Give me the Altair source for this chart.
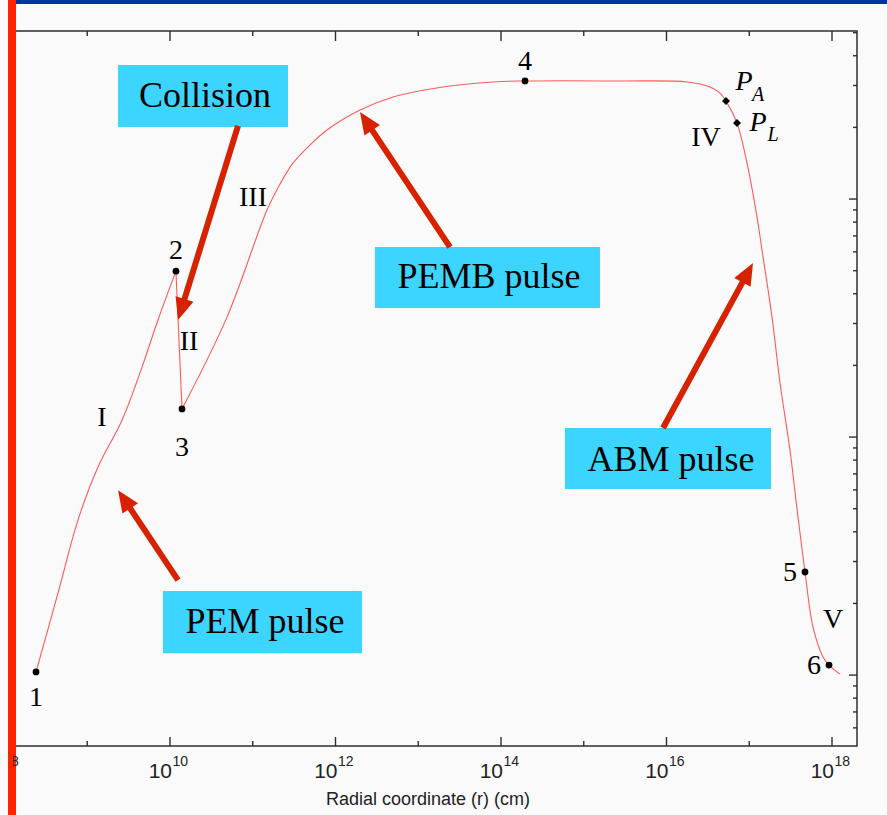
import math
import altair as alt
import pandas as pd

# ---------------- data (log10 values) ----------------
# phase I : 1 -> 2
rise_logr = [8.381, 8.647, 8.888, 9.130, 9.420, 9.662, 9.855, 10.072]
rise_logg = [0.013, 0.345, 0.651, 0.874, 1.071, 1.294, 1.492, 1.697]
# phase II : 2 -> 3 (collision)
drop_logr = [10.072, 10.145]
drop_logg = [1.697, 1.118]
# phases III, IV, V : 3 -> 6
main_logr = [10.145, 10.689, 11.172, 11.329, 11.486, 11.692, 11.897, 12.296, 12.695, 13.299,
             13.903, 14.290, 15.438, 16.248, 16.526, 16.647, 16.719, 16.852,
             16.973, 17.094, 17.154, 17.275, 17.372, 17.492, 17.589, 17.674,
             17.770, 17.891, 17.964, 18.097]
main_logg = [1.118, 1.504, 1.954, 2.063, 2.151, 2.227, 2.290, 2.374, 2.429, 2.471,
             2.492, 2.496, 2.496, 2.492, 2.471, 2.445, 2.412, 2.319,
             2.151, 1.924, 1.786, 1.504, 1.227, 0.945, 0.664, 0.433,
             0.202, 0.076, 0.042, 0.004]

point_names = ["1", "2", "3", "4", "5", "6"]
point_logr = [8.381, 10.072, 10.145, 14.290, 17.674, 17.964]
point_logg = [0.013, 1.697, 1.118, 2.496, 0.433, 0.042]

diamond_names = ["P_A", "P_L"]
diamond_logr = [16.719, 16.852]
diamond_logg = [2.412, 2.319]

label_text = ["1", "2", "3", "4", "5", "6", "I", "II", "III", "IV", "V"]
label_logr = [8.381, 10.072, 10.145, 14.290, 17.492, 17.782, 9.178, 10.230, 11.003, 16.477, 18.012]
label_logg = [-0.097, 1.782, 0.954, 2.576, 0.429, 0.038, 1.080, 1.399, 2.004, 2.256, 0.231]

p_main_logr = [16.937, 17.106]
p_main_logg = [2.492, 2.319]
p_sub_text = ["A", "L"]
p_sub_logr = [17.106, 17.287]
p_sub_logg = [2.437, 2.269]

box_text = ["Collision", "PEMB pulse", "PEM pulse", "ABM pulse"]
box_x1 = [9.372, 12.477, 9.915, 14.773]
box_x2 = [11.426, 15.196, 12.320, 17.263]
box_y1 = [2.563, 1.798, 0.353, 1.038]
box_y2 = [2.303, 1.542, 0.092, 0.782]
box_tx = [10.423, 13.855, 11.148, 16.054]
box_ty = [2.433, 1.672, 0.223, 0.903]

arrow_tail_logr = [10.822, 13.384, 10.097, 15.958]
arrow_tail_logg = [2.307, 1.798, 0.399, 1.038]
arrow_tip_logr = [10.097, 12.296, 9.372, 17.045]
arrow_tip_logg = [1.492, 2.366, 0.777, 1.731]

tick_exponents = [10, 12, 14, 16, 18]
cut_exponent = 8          # 10^8 label, mostly cropped away at the left edge
x_major = [10, 12, 14, 16, 18]
x_minor = [9, 11, 13, 15, 17]
y_major = [1, 10, 100]
y_minor = [0.6, 0.7, 0.8, 0.9, 2, 3, 4, 5, 6, 7, 8, 9,
           20, 30, 40, 50, 60, 70, 80, 90, 200, 300, 400, 500]

# ---------------- layout ----------------
W, H = 842, 715
XLOG = (8.1269, 18.3021)
YLOG = (-0.298, 2.706)
PXX = W / (XLOG[1] - XLOG[0])
PXY = H / (YLOG[1] - YLOG[0])

xs = alt.Scale(type="log", domain=[10 ** XLOG[0], 10 ** XLOG[1]])
ys = alt.Scale(type="log", domain=[10 ** YLOG[0], 10 ** YLOG[1]])

SERIF = "Liberation Serif"
SANS = "Liberation Sans Narrow, Liberation Sans"
CURVE = "#ff5a5a"
ARROW = "#d62200"
CYAN = "#3bd5ff"
FRAME = "#2e2e2e"
RED_BAR = "#ff2400"


def X(f="r"):
    return alt.X(f"{f}:Q", scale=xs, axis=None)


def Y(f="g"):
    return alt.Y(f"{f}:Q", scale=ys, axis=None)


def p10(v):
    return [10 ** a for a in v]


rise_df = pd.DataFrame({"r": p10(rise_logr), "g": p10(rise_logg), "seg": "a"})
main_df = pd.DataFrame({"r": p10(main_logr), "g": p10(main_logg), "seg": "c"})
smooth_df = pd.concat([rise_df, main_df], ignore_index=True)
drop_df = pd.DataFrame({"r": p10(drop_logr), "g": p10(drop_logg)})
pts_df = pd.DataFrame({"name": point_names, "r": p10(point_logr), "g": p10(point_logg)})
dia_df = pd.DataFrame({"name": diamond_names, "r": p10(diamond_logr), "g": p10(diamond_logg)})
lab_df = pd.DataFrame({"t": label_text, "r": p10(label_logr), "g": p10(label_logg)})
pm_df = pd.DataFrame({"t": ["P", "P"], "r": p10(p_main_logr), "g": p10(p_main_logg)})
ps_df = pd.DataFrame({"t": p_sub_text, "r": p10(p_sub_logr), "g": p10(p_sub_logg)})
box_df = pd.DataFrame({"t": box_text, "x1": p10(box_x1), "x2": p10(box_x2),
                       "y1": p10(box_y1), "y2": p10(box_y2),
                       "tx": p10(box_tx), "ty": p10(box_ty)})

# arrows: shaft ends inside the head, head drawn at the tip
HEAD = 22.0
rows = []
for tx0, ty0, hx, hy in zip(arrow_tail_logr, arrow_tail_logg, arrow_tip_logr, arrow_tip_logg):
    dxp = (hx - tx0) * PXX
    dyp = -(hy - ty0) * PXY
    L = math.hypot(dxp, dyp)
    f = 14.0 / L
    ex = hx - (hx - tx0) * f
    ey = hy - (hy - ty0) * f
    ang = math.degrees(math.atan2(dxp, -dyp)) % 360
    rows.append({"r": 10 ** tx0, "g": 10 ** ty0, "r2": 10 ** ex, "g2": 10 ** ey,
                 "hr": 10 ** hx, "hg": 10 ** hy, "ang": ang})
arr_df = pd.DataFrame(rows)

# tick label positions (base "10" right aligned, exponent left aligned)
tl_rows = []
for e in tick_exponents:
    nd = len(str(e))
    wtot = 19.0 + nd * 8.5
    base_right = -wtot / 2 + 20.0
    tl_rows.append({"e": str(e), "rb": 10 ** (e + base_right / PXX),
                    "re": 10 ** (e + (base_right + 0.5) / PXX)})
tl_df = pd.DataFrame(tl_rows)
cut_df = pd.DataFrame({"e": [str(cut_exponent)],
                       "re": [10 ** (cut_exponent + 6.5 / PXX)]})

one = pd.DataFrame({"a": [0]})

layers = []

# boxes
layers.append(alt.Chart(box_df).mark_rect(color=CYAN).encode(
    x=X("x1"), x2="x2:Q", y=Y("y1"), y2="y2:Q"))

# curve
layers.append(alt.Chart(smooth_df).mark_line(color=CURVE, strokeWidth=1.1, interpolate="catmull-rom").encode(
    x=X(), y=Y(), detail="seg:N", order=alt.Order("r:Q")))
layers.append(alt.Chart(drop_df).mark_line(color=CURVE, strokeWidth=1.1).encode(x=X(), y=Y()))

# points
layers.append(alt.Chart(pts_df).mark_point(filled=True, color="black", size=46, opacity=1).encode(x=X(), y=Y()))
layers.append(alt.Chart(dia_df).mark_point(filled=True, color="black", shape="diamond", size=64, opacity=1).encode(x=X(), y=Y()))

# ticks
tc = dict(color=FRAME, strokeWidth=1.4)
xmaj = pd.DataFrame({"v": [10 ** e for e in x_major]})
xmin = pd.DataFrame({"v": [10 ** e for e in x_minor]})
ymaj = pd.DataFrame({"v": y_major})
ymin = pd.DataFrame({"v": y_minor})
layers.append(alt.Chart(xmaj).mark_rule(**tc).encode(x=X("v"), y=alt.value(H), y2=alt.value(H - 9)))
layers.append(alt.Chart(xmin).mark_rule(**tc).encode(x=X("v"), y=alt.value(H), y2=alt.value(H - 5)))
layers.append(alt.Chart(xmaj).mark_rule(**tc).encode(x=X("v"), y=alt.value(0), y2=alt.value(10)))
layers.append(alt.Chart(xmin).mark_rule(**tc).encode(x=X("v"), y=alt.value(0), y2=alt.value(5)))
layers.append(alt.Chart(ymaj).mark_rule(**tc).encode(y=Y("v"), x=alt.value(W), x2=alt.value(W - 8)))
layers.append(alt.Chart(ymin).mark_rule(**tc).encode(y=Y("v"), x=alt.value(W), x2=alt.value(W - 4)))

# arrows
layers.append(alt.Chart(arr_df).mark_rule(color=ARROW, strokeWidth=6).encode(
    x=X("r"), y=Y("g"), x2="r2:Q", y2="g2:Q"))
layers.append(alt.Chart(arr_df).mark_point(
    shape="M0,0L-0.85,2L0.85,2Z", filled=True, color=ARROW, opacity=1, size=HEAD * HEAD, strokeWidth=0).encode(
    x=X("hr"), y=Y("hg"), angle=alt.Angle("ang:Q", scale=None)))

# labels
layers.append(alt.Chart(lab_df).mark_text(font=SERIF, fontSize=28, color="black", baseline="middle").encode(
    x=X(), y=Y(), text="t:N"))
layers.append(alt.Chart(pm_df).mark_text(font=SERIF, fontSize=28, fontStyle="italic", color="black", baseline="middle").encode(
    x=X(), y=Y(), text="t:N"))
layers.append(alt.Chart(ps_df).mark_text(font=SERIF, fontSize=20, fontStyle="italic", color="black", baseline="middle").encode(
    x=X(), y=Y(), text="t:N"))
layers.append(alt.Chart(box_df).mark_text(font=SERIF, fontSize=36, color="black", baseline="middle").encode(
    x=X("tx"), y=Y("ty"), text="t:N"))

# x tick labels
layers.append(alt.Chart(tl_df).mark_text(font=SANS, fontSize=21, color="#222222", align="right", baseline="middle").encode(
    x=X("rb"), y=alt.value(H + 26), text=alt.value("10")))
layers.append(alt.Chart(tl_df).mark_text(font=SANS, fontSize=14, color="#222222", align="left", baseline="middle").encode(
    x=X("re"), y=alt.value(H + 16), text="e:N"))

# axis title
layers.append(alt.Chart(one).mark_text(font=SANS, fontSize=18, color="#222222", baseline="middle").encode(
    x=alt.value(413), y=alt.value(H + 54), text=alt.value("Radial coordinate (r) (cm)")))

# slide decorations: blue top bar and red left bar
layers.append(alt.Chart(one).mark_rect(color="#0033a0").encode(
    x=alt.value(-7), x2=alt.value(872), y=alt.value(-31), y2=alt.value(-27)))
layers.append(alt.Chart(one).mark_rect(color=RED_BAR).encode(
    x=alt.value(-7), x2=alt.value(1), y=alt.value(-31), y2=alt.value(784)))
# cropped 10^8 exponent at the left edge, half hidden by the bar
layers.append(alt.Chart(cut_df).mark_text(font=SANS, fontSize=14, color="#222222", align="left", baseline="middle").encode(
    x=X("re"), y=alt.value(H + 16), text="e:N"))
layers.append(alt.Chart(one).mark_rect(color=RED_BAR).encode(
    x=alt.value(-7), x2=alt.value(-2), y=alt.value(H), y2=alt.value(H + 40)))
layers.append(alt.Chart(one).mark_rect(color="#fafafa").encode(
    x=alt.value(-15), x2=alt.value(-7), y=alt.value(H), y2=alt.value(H + 40)))

chart = alt.layer(*layers).properties(
    width=W, height=H,
    padding={"left": 15, "top": 31, "right": 30, "bottom": 69},
    autosize=alt.AutoSizeParams(type="none"),
    background="#fafafa",
).configure_view(stroke=FRAME, strokeWidth=1.5, fill="#fafafa")

chart.save("out.html", embed_options={"renderer": "svg", "actions": False})
